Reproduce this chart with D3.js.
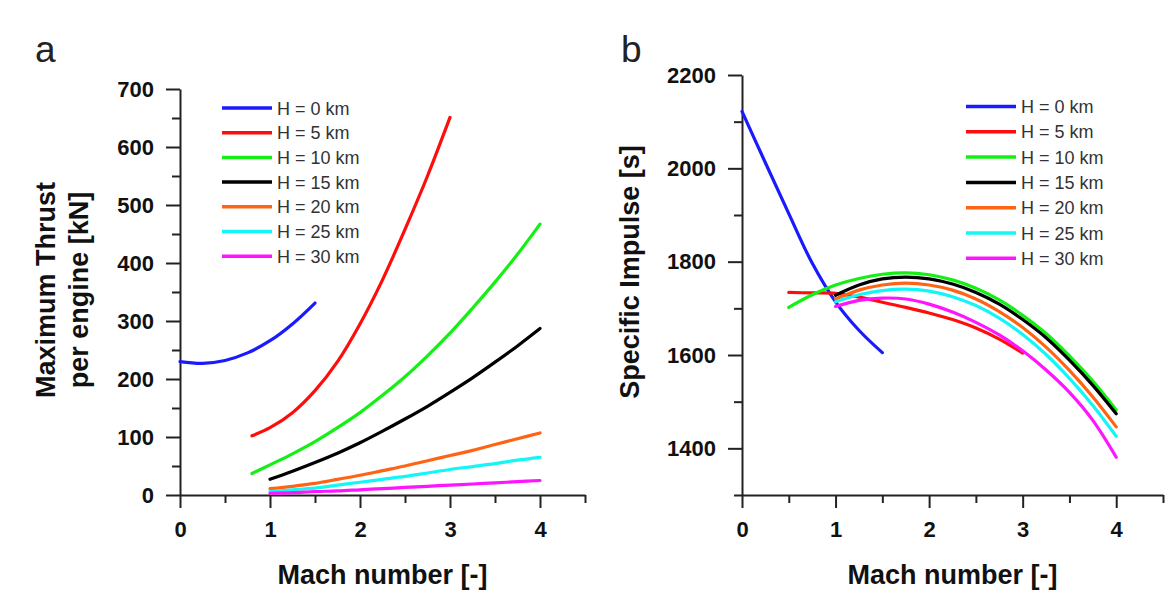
<!DOCTYPE html>
<html><head><meta charset="utf-8">
<script src="https://cdn.jsdelivr.net/npm/d3@7"></script>
<style>
html,body{margin:0;padding:0;background:#fff;}
svg{display:block;}
text{font-family:"Liberation Sans",Arial,sans-serif;}
</style></head>
<body>
<svg id="chart" width="1174" height="604"></svg>
<script>
// ---------- data ----------
const legendLabels = ["H = 0 km","H = 5 km","H = 10 km","H = 15 km","H = 20 km","H = 25 km","H = 30 km"];
const seriesColors = ["#1a1aff","#ff0d0d","#14f014","#000000","#ff6414","#14f5f5","#ff14ff"];

const machTicksMajor = [0,1,2,3,4];
const machTicksMinor = [0.5,1.5,2.5,3.5,4.5];
const thrustTicksMajor = [0,100,200,300,400,500,600,700];
const thrustTicksMinor = [50,150,250,350,450,550,650];
const ispTicksMajor = [1400,1600,1800,2000,2200];
const ispTicksMinor = [1300,1500,1700,1900,2100];

// panel a: maximum thrust per engine [kN]
const machA0  = [0,0.25,0.5,0.75,1,1.25,1.5];
const thrustA0 = [230,227,232,245,266,295,331];
const machA5  = [0.8,1,1.25,1.5,1.75,2,2.25,2.5,2.75,3];
const thrustA5 = [102,116,142,180,230,295,371,458,550,651];
const machA10 = [0.8,1,1.25,1.5,1.75,2,2.25,2.5,2.75,3,3.25,3.5,3.75,4];
const thrustA10 = [37,52,71,92,116,142,172,204,240,279,322,367,415,467];
const machHigh = [1,1.25,1.5,1.75,2,2.25,2.5,2.75,3,3.25,3.5,3.75,4];
const thrustA15 = [27,41,56,72,90,110,131,153,177,202,229,257,287];
const thrustA20 = [11,15,20,27,34,42,50,59,68,77,87,97,107];
const thrustA25 = [6,9,12,17,22,27,32,38,44,49,54,60,65];
const thrustA30 = [3,4,6,7,9,11,13,15,17,19,21,23,25];

// panel b: specific impulse [s]
const machB0  = [0,0.25,0.5,0.75,1,1.25,1.5];
const ispB0   = [2122,2012,1903,1797,1714,1653,1605];
const machB5  = [0.5,0.75,1,1.25,1.5,1.75,2,2.25,2.5,2.75,3];
const ispB5   = [1734,1733,1732,1724,1713,1702,1690,1676,1658,1634,1604];
const machB10 = [0.5,0.75,1,1.25,1.5,1.75,2,2.25,2.5,2.75,3,3.25,3.5,3.75,4];
const ispB10  = [1702,1729,1750,1764,1773,1776,1772,1761,1743,1718,1685,1646,1598,1544,1482];
const ispB15  = [1728,1750,1763,1767,1763,1752,1734,1709,1676,1637,1589,1535,1474];
const ispB20  = [1720,1739,1750,1754,1750,1739,1720,1693,1659,1617,1567,1510,1446];
const ispB25  = [1714,1729,1738,1741,1737,1725,1706,1679,1644,1601,1550,1492,1426];
const ispB30  = [1704,1717,1722,1720,1709,1692,1670,1643,1609,1568,1520,1460,1381];

const seriesA = [[machA0,thrustA0],[machA5,thrustA5],[machA10,thrustA10],[machHigh,thrustA15],[machHigh,thrustA20],[machHigh,thrustA25],[machHigh,thrustA30]];
const seriesB = [[machB0,ispB0],[machB5,ispB5],[machB10,ispB10],[machHigh,ispB15],[machHigh,ispB20],[machHigh,ispB25],[machHigh,ispB30]];

// ---------- drawing ----------
const svg = d3.select("#chart");
const FONT = '"Liberation Sans",Arial,sans-serif';

function panel(cfg){
  const g = svg.append("g");
  const x = d3.scaleLinear().domain([0,4.5]).range([cfg.x0,cfg.x1]);
  const y = d3.scaleLinear().domain(cfg.yDomain).range([cfg.yBottom,cfg.yTop]);

  const styleAxis = sel => {
    sel.selectAll("path.domain").attr("stroke","#222").attr("stroke-width",2);
    sel.selectAll(".tick line").attr("stroke","#222").attr("stroke-width",2);
    sel.selectAll(".tick text").attr("font-family",FONT).attr("font-size",22).attr("font-weight","bold").attr("fill","#111");
  };
  // minor ticks
  g.append("g").attr("transform",`translate(0,${cfg.yBottom})`)
    .call(d3.axisBottom(x).tickValues(machTicksMinor).tickSize(8).tickSizeOuter(0).tickFormat(""))
    .call(styleAxis).call(s=>s.select("path.domain").remove());
  g.append("g").attr("transform",`translate(${cfg.x0},0)`)
    .call(d3.axisLeft(y).tickValues(cfg.yMinor).tickSize(8).tickSizeOuter(0).tickFormat(""))
    .call(styleAxis).call(s=>s.select("path.domain").remove());
  // major ticks
  g.append("g").attr("transform",`translate(0,${cfg.yBottom})`)
    .call(d3.axisBottom(x).tickValues(machTicksMajor).tickSize(13).tickSizeOuter(0).tickPadding(13).tickFormat(d3.format("d")))
    .call(styleAxis);
  g.append("g").attr("transform",`translate(${cfg.x0},0)`)
    .call(d3.axisLeft(y).tickValues(cfg.yMajor).tickSize(14).tickSizeOuter(0).tickPadding(12).tickFormat(d3.format("d")))
    .call(styleAxis);

  // curves
  const line = d3.line().x(d=>x(d[0])).y(d=>y(d[1])).curve(d3.curveCatmullRom.alpha(0.5));
  cfg.series.forEach((s,i)=>{
    const pts = s[0].map((m,j)=>[m,s[1][j]]);
    g.append("path").attr("d",line(pts)).attr("fill","none")
      .attr("stroke",seriesColors[i]).attr("stroke-width",3.2).attr("stroke-linecap","round");
  });

  // legend
  legendLabels.forEach((lab,i)=>{
    const yy = cfg.legY + i*cfg.legStep;
    g.append("line").attr("x1",cfg.legX).attr("x2",cfg.legX+50).attr("y1",yy).attr("y2",yy)
      .attr("stroke",seriesColors[i]).attr("stroke-width",3.5);
    g.append("text").attr("x",cfg.legX+55).attr("y",yy+6.5).text(lab)
      .attr("font-size",18).attr("fill","#333");
  });

  // axis titles
  g.append("text").attr("x",(cfg.x0+cfg.x1)/2).attr("y",584).attr("text-anchor","middle")
    .attr("font-size",27).attr("font-weight","bold").attr("fill","#111").text("Mach number [-]");
  const yt = g.append("text").attr("transform",`translate(${cfg.yTitleX},${cfg.yTitleY}) rotate(-90)`)
    .attr("text-anchor","middle").attr("font-size",27).attr("font-weight","bold").attr("fill","#111");
  cfg.yTitle.forEach((t,i)=>{
    yt.append("tspan").attr("x",0).attr("dy",i===0?0:33).text(t);
  });
  g.append("text").attr("x",cfg.labX).attr("y",62).attr("font-size",37).attr("fill","#222").text(cfg.label);
}

panel({x0:180,x1:585,yBottom:495,yTop:89,yDomain:[0,700],yMajor:thrustTicksMajor,yMinor:thrustTicksMinor,
  series:seriesA,legX:222,legY:108,legStep:24.7,yTitle:["Maximum Thrust","per engine [kN]"],yTitleX:55,yTitleY:290,
  label:"a",labX:35});
panel({x0:742,x1:1163,yBottom:495,yTop:75,yDomain:[1300,2200],yMajor:ispTicksMajor,yMinor:ispTicksMinor,
  series:seriesB,legX:966,legY:106.5,legStep:25.3,yTitle:["Specific Impulse [s]"],yTitleX:639,yTitleY:272,
  label:"b",labX:621});
</script>
</body></html>
